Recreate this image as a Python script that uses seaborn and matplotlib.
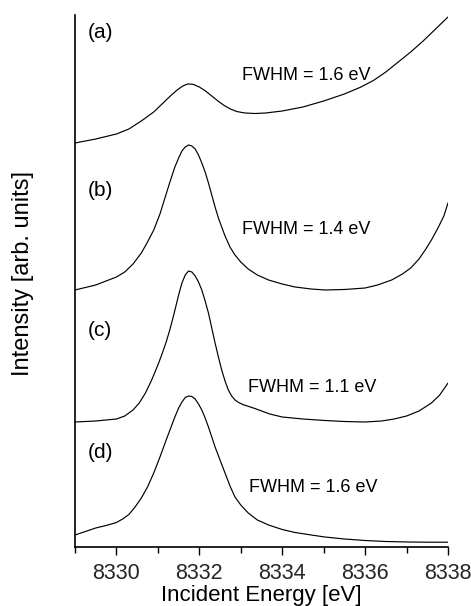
import numpy as np
import pandas as pd
import matplotlib
matplotlib.use("Agg")
import matplotlib.pyplot as plt
import seaborn as sns

# ---- data (curves already stacked with offsets) ----
a_E = [8329.0, 8329.5, 8330.0, 8330.3, 8330.6, 8330.9, 8331.1, 8331.3, 8331.45, 8331.6,
       8331.72, 8331.85, 8332.0, 8332.15, 8332.3, 8332.45, 8332.6, 8332.75, 8332.9, 8333.1,
       8333.35, 8333.6, 8334.0, 8334.5, 8335.0, 8335.5, 8335.9, 8336.2, 8336.5, 8336.8,
       8337.1, 8337.4, 8337.7, 8338.0]
a_I = [4.04, 4.08, 4.13, 4.18, 4.26, 4.35, 4.43, 4.51, 4.565, 4.61,
       4.63, 4.627, 4.60, 4.56, 4.51, 4.46, 4.415, 4.38, 4.355, 4.34,
       4.335, 4.34, 4.36, 4.40, 4.46, 4.53, 4.60, 4.665, 4.75, 4.85,
       4.95, 5.06, 5.18, 5.30]

b_E = [8329.0, 8329.5, 8330.0, 8330.2, 8330.4, 8330.6, 8330.75, 8330.9, 8331.05, 8331.17,
       8331.29, 8331.41, 8331.5, 8331.58, 8331.66, 8331.74, 8331.82, 8331.9, 8331.98, 8332.06,
       8332.14, 8332.22, 8332.3, 8332.38, 8332.46, 8332.54, 8332.62, 8332.74, 8332.86, 8333.0,
       8333.18, 8333.4, 8333.67, 8334.0, 8334.31, 8334.7, 8335.03, 8335.5, 8336.0, 8336.3,
       8336.64, 8336.9, 8337.1, 8337.3, 8337.45, 8337.6, 8337.77, 8337.9, 8338.0]
b_I = [2.57, 2.62, 2.70, 2.75, 2.83, 2.94, 3.05, 3.17, 3.33, 3.49,
       3.65, 3.80, 3.89, 3.96, 4.00, 4.02, 4.01, 3.98, 3.92, 3.84,
       3.75, 3.64, 3.52, 3.40, 3.29, 3.20, 3.11, 3.00, 2.92, 2.85,
       2.78, 2.72, 2.67, 2.63, 2.60, 2.58, 2.57, 2.575, 2.59, 2.62,
       2.67, 2.73, 2.79, 2.88, 2.97, 3.07, 3.20, 3.31, 3.44]

c_E = [8329.0, 8329.5, 8330.0, 8330.2, 8330.4, 8330.55, 8330.7, 8330.85, 8331.0, 8331.1,
       8331.2, 8331.3, 8331.4, 8331.5, 8331.58, 8331.66, 8331.74, 8331.82, 8331.9, 8331.98,
       8332.06, 8332.14, 8332.22, 8332.3, 8332.38, 8332.46, 8332.54, 8332.62, 8332.70, 8332.78,
       8332.86, 8332.95, 8333.05, 8333.34, 8333.7, 8334.0, 8334.5, 8335.03, 8335.5, 8336.0,
       8336.4, 8336.7, 8337.0, 8337.3, 8337.6, 8337.8, 8338.0]
c_I = [1.25, 1.26, 1.28, 1.31, 1.37, 1.44, 1.54, 1.67, 1.82, 1.93,
       2.05, 2.19, 2.35, 2.52, 2.64, 2.72, 2.76, 2.75, 2.71, 2.65,
       2.57, 2.46, 2.34, 2.19, 2.04, 1.90, 1.77, 1.66, 1.57, 1.51,
       1.47, 1.445, 1.425, 1.385, 1.33, 1.30, 1.28, 1.265, 1.255, 1.25,
       1.26, 1.28, 1.31, 1.36, 1.44, 1.52, 1.64]

d_E = [8329.0, 8329.25, 8329.5, 8329.75, 8330.0, 8330.15, 8330.3, 8330.45, 8330.6, 8330.75,
       8330.9, 8331.05, 8331.2, 8331.3, 8331.4, 8331.5, 8331.58, 8331.66, 8331.74, 8331.82,
       8331.9, 8331.98, 8332.06, 8332.14, 8332.22, 8332.3, 8332.38, 8332.5, 8332.62, 8332.74,
       8332.86, 8333.0, 8333.18, 8333.4, 8333.67, 8334.0, 8334.31, 8334.7, 8335.03, 8335.5,
       8336.0, 8336.5, 8337.05, 8337.5, 8338.0]
d_I = [0.12, 0.155, 0.19, 0.215, 0.245, 0.28, 0.325, 0.40, 0.49, 0.60,
       0.74, 0.90, 1.07, 1.18, 1.29, 1.39, 1.45, 1.495, 1.51, 1.505,
       1.48, 1.43, 1.37, 1.29, 1.20, 1.10, 1.00, 0.87, 0.74, 0.61,
       0.50, 0.42, 0.34, 0.27, 0.22, 0.175, 0.145, 0.12, 0.10, 0.08,
       0.065, 0.055, 0.05, 0.048, 0.048]

panel_labels = ["(a)", "(b)", "(c)", "(d)"]
panel_label_y = [5.14, 3.57, 2.17, 0.94]
fwhm_labels = ["FWHM = 1.6 eV", "FWHM = 1.4 eV", "FWHM = 1.1 eV", "FWHM = 1.6 eV"]
fwhm_x = [8333.02, 8333.02, 8333.17, 8333.2]
fwhm_y = [4.71, 3.18, 1.60, 0.59]
x_ticks = [8330, 8332, 8334, 8336, 8338]
x_minor = [8329, 8331, 8333, 8335, 8337]

# ---- build a long table ----
frames = []
for name, E, I in [("a", a_E, a_I), ("b", b_E, b_I), ("c", c_E, c_I), ("d", d_E, d_I)]:
    frames.append(pd.DataFrame({"E": E, "I": I, "curve": name}))
df = pd.concat(frames, ignore_index=True)

sns.set_theme(style="ticks")
plt.rcParams["font.family"] = ["Liberation Sans", "DejaVu Sans"]

fig = plt.figure(figsize=(4.71, 6.06), dpi=100)
ax = fig.add_axes([75 / 471, 1 - 547 / 606, 373 / 471, 532 / 606])

sns.lineplot(data=df, x="E", y="I", units="curve", estimator=None, sort=False,
             color="black", linewidth=0.85, ax=ax, legend=False)

ax.set_xlim(8329, 8338)
ax.set_ylim(0, 5.32)
ax.set_xticks(x_ticks)
ax.set_xticks(x_minor, minor=True)
ax.set_xticklabels([str(t) for t in x_ticks], fontsize=15.5)
ax.set_yticks([])
ax.tick_params(axis="x", which="major", direction="out", length=6, width=1.0,
               color="black", pad=5.5)
ax.tick_params(axis="x", which="minor", direction="out", length=4.5, width=1.0,
               color="black")
for s in ["top", "right"]:
    ax.spines[s].set_visible(False)
for s in ["left", "bottom"]:
    ax.spines[s].set_color("black")
    ax.spines[s].set_linewidth(1.2)

ax.set_xlabel("Incident Energy [eV]", fontsize=16, color="black")
ax.set_ylabel("Intensity [arb. units]", fontsize=17, color="black")
ax.yaxis.set_label_coords(-0.11, 0.515)
ax.xaxis.labelpad = 0.5

for lab, y in zip(panel_labels, panel_label_y):
    ax.text(8329.31, y, lab, fontsize=15, ha="left", va="center", color="black")
for lab, x, y in zip(fwhm_labels, fwhm_x, fwhm_y):
    ax.text(x, y, lab, fontsize=13, ha="left", va="center", color="black")

fig.savefig("out.png", dpi=100, facecolor="white")
